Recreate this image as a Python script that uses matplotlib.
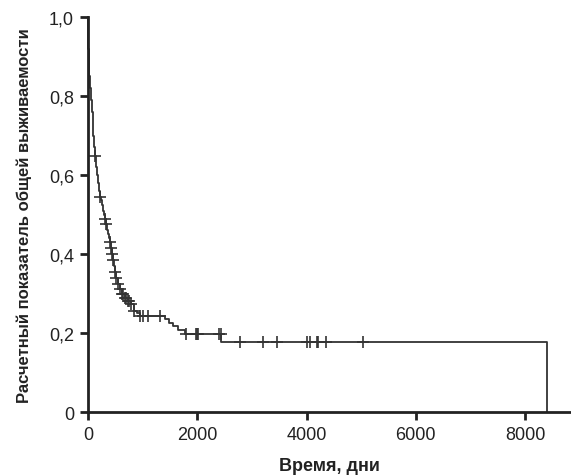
import matplotlib
matplotlib.use("Agg")
import matplotlib.pyplot as plt
import numpy as np
from matplotlib import font_manager

# Kaplan-Meier step data
event_times = [0, 3, 8, 15, 25, 40, 55, 70, 85, 100, 115, 128, 145, 165, 185, 205,
               220, 240, 260, 280, 300, 311, 330, 350, 370, 390, 403, 420, 440, 460,
               480, 495, 520, 550, 586, 623, 677, 732, 788, 842, 900, 952, 1410, 1480,
               1556, 1648, 1776, 2435, 8407]
survival = [1.0, 0.95, 0.92, 0.88, 0.85, 0.82, 0.79, 0.76, 0.73, 0.70, 0.67, 0.648,
            0.62, 0.60, 0.58, 0.56, 0.545, 0.537, 0.525, 0.51, 0.50, 0.489, 0.475,
            0.46, 0.45, 0.44, 0.43, 0.415, 0.40, 0.385, 0.37, 0.355, 0.34, 0.324,
            0.311, 0.30, 0.29, 0.28, 0.273, 0.256, 0.25, 0.243, 0.235, 0.225, 0.218,
            0.207, 0.197, 0.178, 0.0]
censored_times = [128, 220, 311, 330, 403, 420, 440, 460, 495, 520, 550, 586, 623,
                  650, 677, 700, 732, 760, 788, 842, 952, 1007, 1099, 1318, 1795,
                  1978, 2000, 2010, 2400, 2430, 2784, 3205, 3461, 4011, 4066, 4194,
                  4212, 4359, 5037]
x_ticks = [0, 2000, 4000, 6000, 8000]
x_ticklabels = ["0", "2000", "4000", "6000", "8000"]
y_ticks = [0, 0.2, 0.4, 0.6, 0.8, 1.0]
y_ticklabels = ["0", "0,2", "0,4", "0,6", "0,8", "1,0"]
x_label = "Время, дни"
y_label = "Расчетный показатель общей выживаемости"

names = {f.name for f in font_manager.fontManager.ttflist}
fam = "Liberation Sans Narrow" if "Liberation Sans Narrow" in names else "Liberation Sans"
plt.rcParams['font.family'] = [fam, 'DejaVu Sans']

fig = plt.figure(figsize=(5.71, 4.77), dpi=100)
ax = fig.add_axes([0.154, 0.134, 0.846, 0.828])

line_col = "#333333"
ax.plot(event_times, survival, drawstyle='steps-post', color=line_col, lw=1.3, clip_on=False)

et = np.array(event_times)
sv = np.array(survival)
ct = np.array(censored_times)
idx = np.searchsorted(et, ct, side='right') - 1
cy = sv[idx]
ax.plot(ct, cy, linestyle='none', marker='+', markersize=8, mew=1.2, color=line_col)

ax.set_xlim(0, 8840)
ax.set_ylim(0, 1.0)
ax.set_xticks(x_ticks)
ax.set_xticklabels(x_ticklabels)
ax.set_yticks(y_ticks)
ax.set_yticklabels(y_ticklabels)
for s in ['top', 'right']:
    ax.spines[s].set_visible(False)
for s in ['left', 'bottom']:
    ax.spines[s].set_linewidth(2.0)
    ax.spines[s].set_color('#222222')
ax.tick_params(axis='both', direction='out', length=6, width=2.0, color='#222222',
               labelsize=13, labelcolor='#222222', pad=4)

ax.set_xlabel(x_label, fontsize=13, fontweight='bold', labelpad=10, color='#222222')
ax.set_ylabel(y_label, fontsize=12, fontweight='bold', labelpad=12, color='#222222')

fig.savefig("out.png", dpi=100)
